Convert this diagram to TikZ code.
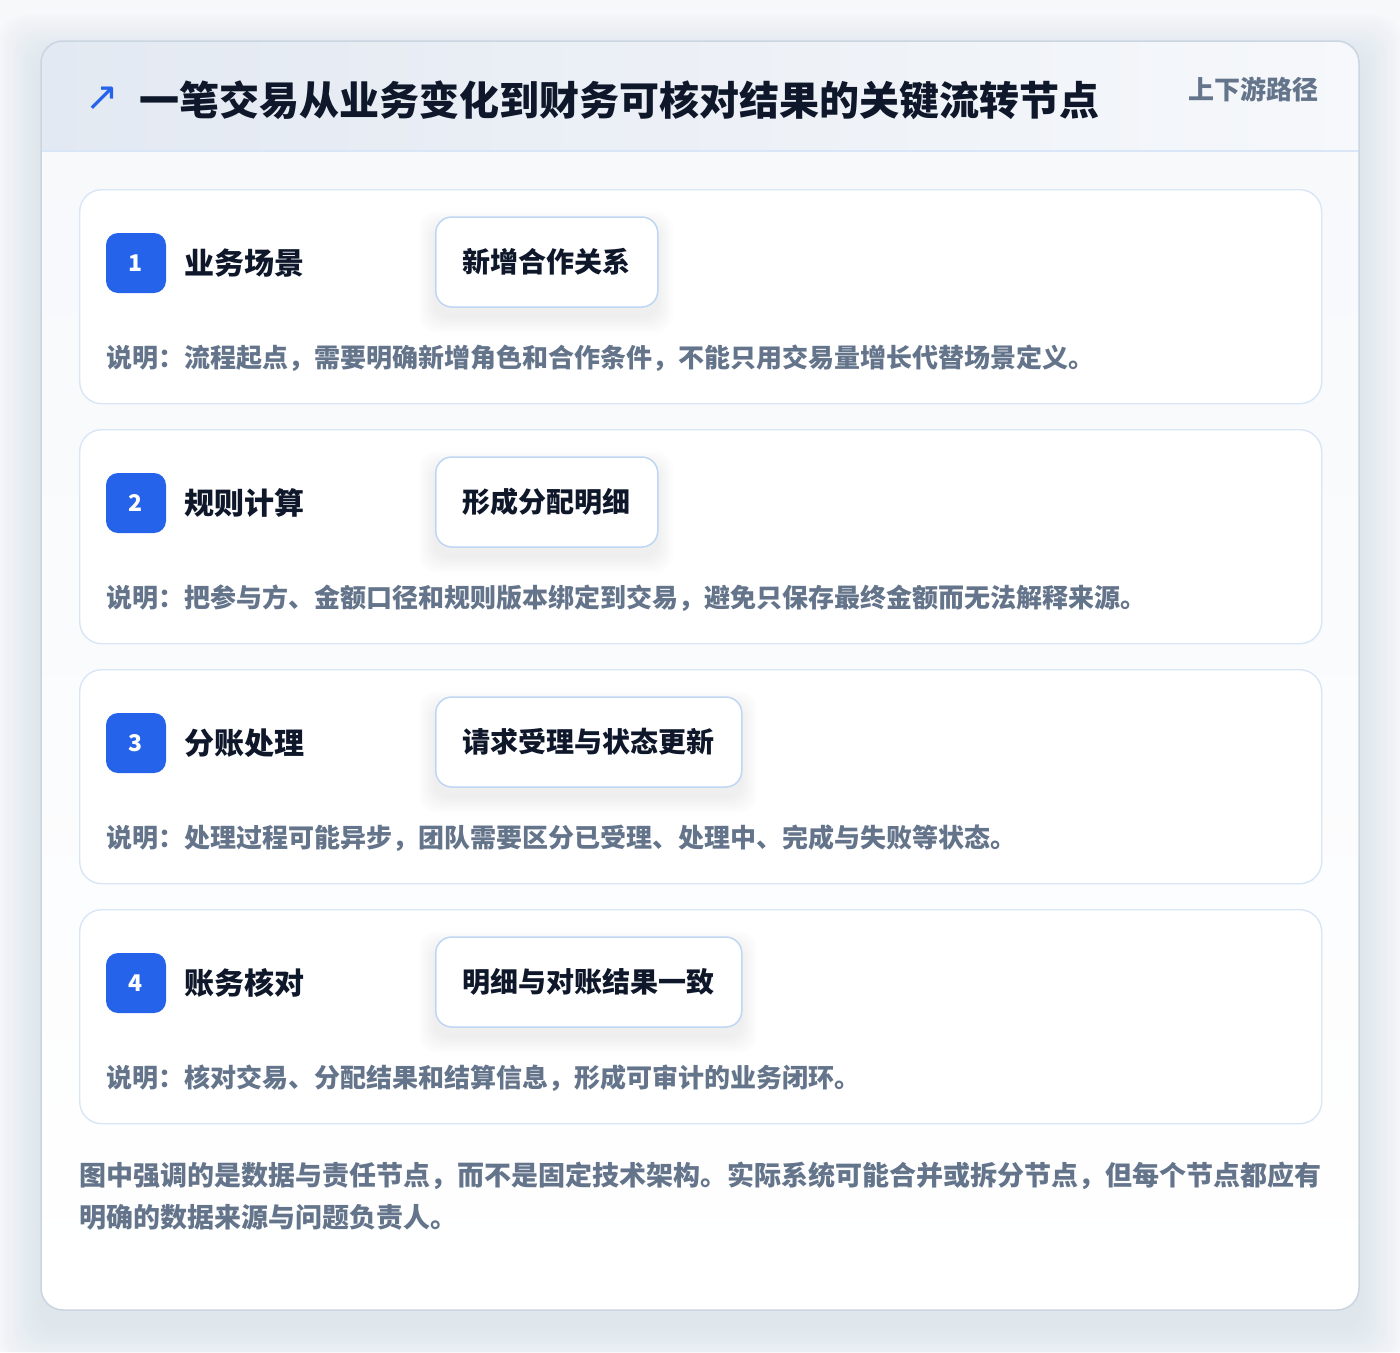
\documentclass[tikz,border=0pt]{standalone}
\usepackage{fontspec}
\setmainfont{Noto Sans CJK SC}
\newfontfamily\symfont{DejaVu Sans}
\definecolor{accent}{HTML}{2563EB}
\definecolor{ink}{HTML}{0F172A}
\definecolor{muted}{HTML}{64748B}
\definecolor{cardline}{HTML}{D8E6F7}
\definecolor{tagline}{HTML}{BFD6F2}
\definecolor{outline}{HTML}{CBD5E1}
\definecolor{pagebg}{HTML}{F7F8FA}
\definecolor{shadowc}{HTML}{64748B}
\definecolor{headl}{HTML}{E3E9F2}
\definecolor{headr}{HTML}{F6F8FB}
\begin{document}
\begin{tikzpicture}[x=1pt,y=-1pt,
  card/.style={draw=cardline, line width=1.4pt, fill=white, rounded corners=22pt},
  badge/.style={fill=accent, rounded corners=12pt, minimum width=60pt, minimum height=60pt, text=white, font=\bfseries\fontsize{23}{23}\selectfont, inner sep=0pt},
  steplabel/.style={anchor=base west, inner sep=0pt, text=ink, font=\bfseries\fontsize{30}{30}\selectfont},
  tagbox/.style={draw=tagline, line width=1.5pt, fill=white, rounded corners=16pt, minimum height=90pt, inner xsep=27pt, inner ysep=0pt, text=ink, font=\bfseries\fontsize{28}{28}\selectfont, anchor=west},
  note/.style={anchor=base west, inner sep=0pt, text=muted, font=\bfseries\fontsize{26}{26}\selectfont},
  foot/.style={anchor=base west, inner sep=0pt, text=muted, font=\bfseries\fontsize{27}{27}\selectfont}
]
\useasboundingbox (0,0) rectangle (1400,1352);
\fill[pagebg] (0,0) rectangle (1400,1352);
% outer shadow
\foreach \k in {3,6,...,42}
  \fill[shadowc, opacity=0.009, rounded corners=24pt] (41-\k,41-\k+16) rectangle (1359+\k,1310+\k+16);
% outer card
\shade[rounded corners=22pt, top color=headr, bottom color=white] (41,41) rectangle (1359,1310);
\begin{scope}
  \clip[rounded corners=22pt] (41,41) rectangle (1359,1310);
  \shade[left color=headl, right color=headr] (41,41) rectangle (1359,151);
  \draw[cardline, line width=1.5pt] (41,151) -- (1359,151);
\end{scope}
\draw[outline, line width=1.5pt, rounded corners=22pt] (41,41) rectangle (1359,1310);
% header
\node[text=accent, font=\symfont\fontsize{40}{40}\selectfont, inner sep=0pt] (arrow) at (102,99) {↗};
\node[anchor=base west, inner sep=0pt, text=ink, font=\bfseries\fontsize{40}{40}\selectfont] (title) at (139,115) {一笔交易从业务变化到财务可核对结果的关键流转节点};
\node[anchor=base west, inner sep=0pt, text=muted, font=\bfseries\fontsize{26}{26}\selectfont] (path) at (1188,99) {上下游路径};
% cards
\foreach \n/\lab/\tag/\w/\desc in {%
  1/业务场景/新增合作关系/222/说明：流程起点，需要明确新增角色和合作条件，不能只用交易量增长代替场景定义。,%
  2/规则计算/形成分配明细/222/说明：把参与方、金额口径和规则版本绑定到交易，避免只保存最终金额而无法解释来源。,%
  3/分账处理/请求受理与状态更新/306/说明：处理过程可能异步，团队需要区分已受理、处理中、完成与失败等状态。,%
  4/账务核对/明细与对账结果一致/306/说明：核对交易、分配结果和结算信息，形成可审计的业务闭环。}{
  \pgfmathsetmacro\yt{189+240*(\n-1)}
  \node[card, minimum width=1242pt, minimum height=214pt, anchor=north west, inner sep=0pt] (card\n) at (79,\yt) {};
  \foreach \k in {2,4,...,16}
    \fill[shadowc, opacity=0.011, rounded corners=18pt] (435-\k,\yt+28-\k+10) rectangle (435+\w+\k,\yt+118+\k+10);
  \node[badge] (badge\n) at (136,\yt+74) {\n};
  \node[steplabel] (label\n) at (184,\yt+85) {\lab};
  \node[tagbox, minimum width=\w pt] (tag\n) at (435,\yt+73) {\tag};
  \node[note] (note\n) at (106,\yt+178) {\desc};
}
% footer
\node[foot] (foot1) at (79,1185) {图中强调的是数据与责任节点，而不是固定技术架构。实际系统可能合并或拆分节点，但每个节点都应有};
\node[foot] (foot2) at (79,1227) {明确的数据来源与问题负责人。};
\end{tikzpicture}
\end{document}
